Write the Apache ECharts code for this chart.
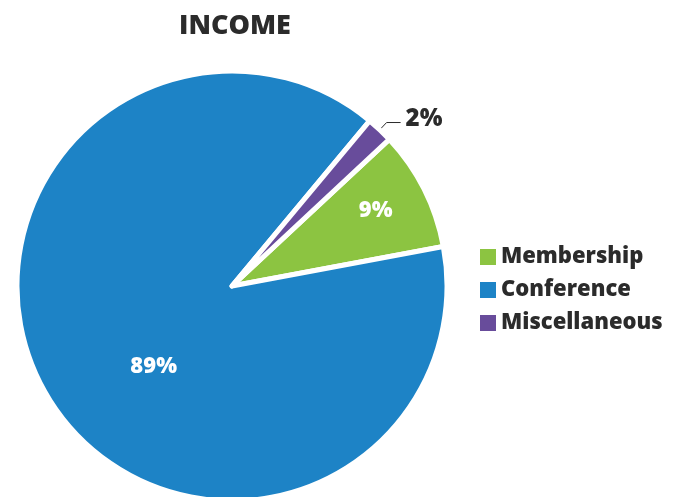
<!DOCTYPE html>
<html><head><meta charset="utf-8">
<script src="https://cdn.jsdelivr.net/npm/echarts@6/dist/echarts.min.js"></script>
<style>html,body{margin:0;padding:0;background:#fff}#c{width:683px;height:497px}</style>
</head><body><div id="c"></div>
<script>
var categories = ['Membership', 'Conference', 'Miscellaneous'];
var values = [9, 89, 2];
var colors = ['#8cc441', '#1d83c6', '#684c9b'];
var labelOffsets = [[45, -25], [17, 25], [3, -3]];

var chart = echarts.init(document.getElementById('c'));
var FONT = '"Open Sans", Lato, sans-serif';
var data = categories.map(function (name, i) {
  var item = { name: name, value: values[i], itemStyle: { color: colors[i] } };
  if (i === 2) {
    item.label = { position: 'outside', color: '#2b2b2b', fontSize: 24, fontWeight: 800, distanceToLabelLine: 2 };
    item.labelLine = { show: true, length: 10, length2: 14, lineStyle: { color: '#2b2b2b', width: 1 } };
  } else {
    item.label = { position: 'inside', color: '#fff', fontSize: 22, fontWeight: 800 };
    item.labelLine = { show: false };
  }
  return item;
});
chart.setOption({
  animation: false,
  title: { text: 'INCOME', left: 230, top: 8, textAlign: 'center',
    textStyle: { fontFamily: FONT, fontSize: 27, fontWeight: 800, color: '#2b2b2b' } },
  legend: {
    orient: 'vertical', left: 473, top: 241, itemWidth: 18, itemHeight: 18, itemGap: 11,
    icon: 'rect', data: categories,
    textStyle: { fontFamily: FONT, fontSize: 22, fontWeight: 800, color: '#2b2b2b', padding: [0, 0, 0, -1] }
  },
  series: [{
    type: 'pie', center: [232, 286], radius: 215, startAngle: 43, clockwise: true,
    avoidLabelOverlap: false,
    itemStyle: { borderColor: '#fff', borderWidth: 5 },
    label: { formatter: '{c}%', fontFamily: FONT },
    labelLayout: function (p) {
      var o = labelOffsets[p.dataIndex];
      return { dx: o[0], dy: o[1] };
    },
    data: data
  }]
});
</script></body></html>
